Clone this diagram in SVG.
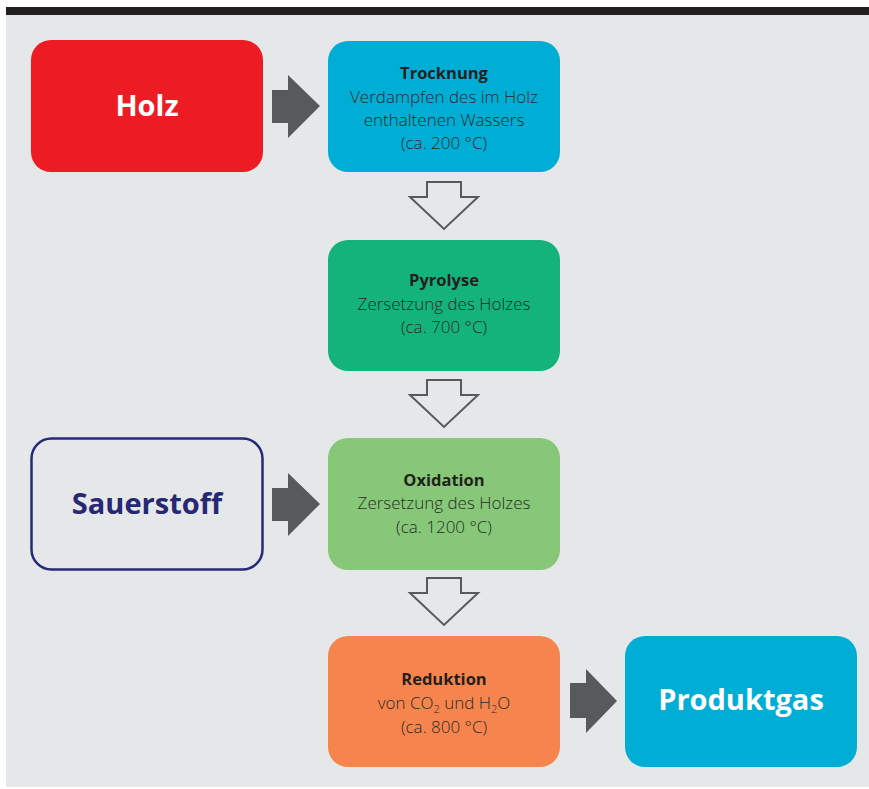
<svg xmlns="http://www.w3.org/2000/svg" width="869" height="789" viewBox="0 0 869 789">
<defs>
<style>
.box{stroke:none}
.h{font-family:"Open Sans","Liberation Sans",sans-serif;font-weight:700;font-size:16.5px;fill:#231f20;text-anchor:middle}
.b{font-family:"Open Sans","Liberation Sans",sans-serif;font-weight:300;font-size:17px;fill:#2a2a2a;text-anchor:middle}
.big{font-family:"Open Sans","Liberation Sans",sans-serif;font-weight:700;font-size:29px;text-anchor:middle}
.ra{fill:#58595b}
.da{fill:none;stroke:#58595b;stroke-width:2}
</style>
</defs>
<rect x="0" y="0" width="869" height="789" fill="#ffffff"/>
<rect x="6" y="15" width="863" height="772" fill="#e6e7e8"/>
<rect x="6" y="7" width="863" height="8" fill="#231f20"/>

<g id="connectors">
<path class="ra" d="M272,90 H288 V75 L320,106 L288,138 V123 H272 Z"/>
<path class="ra" d="M272,488 H288 V473 L320,504 L288,536 V521 H272 Z"/>
<path class="ra" d="M570,683 H586 V669 L617,701 L586,733 V718 H570 Z"/>
<path class="da" d="M427,182 H461 V197 H478 L444,229 L410,197 H427 Z"/>
<path class="da" d="M427,380 H461 V395 H478 L444,427 L410,395 H427 Z"/>
<path class="da" d="M427,578 H461 V593 H478 L444,625 L410,593 H427 Z"/>
</g>

<g id="holz">
<rect class="box" x="31" y="40" width="232" height="132" rx="20" fill="#ed1c24"/>
<text class="big" x="147" y="116" fill="#ffffff">Holz</text>
</g>

<g id="trocknung">
<rect class="box" x="328" y="41" width="232" height="131" rx="20" fill="#00aed5"/>
<text class="h" x="444" y="79">Trocknung</text>
<text class="b" x="444" y="103">Verdampfen des im Holz</text>
<text class="b" x="444" y="126">enthaltenen Wassers</text>
<text class="b" x="444" y="149">(ca. 200 °C)</text>
</g>

<g id="pyrolyse">
<rect class="box" x="328" y="240" width="232" height="131" rx="20" fill="#13b37b"/>
<text class="h" x="444" y="286">Pyrolyse</text>
<text class="b" x="444" y="310">Zersetzung des Holzes</text>
<text class="b" x="444" y="333">(ca. 700 °C)</text>
</g>

<g id="sauerstoff">
<rect x="31.5" y="438.5" width="231" height="131" rx="20" fill="#e6e7e8" stroke="#262a78" stroke-width="2.5"/>
<text class="big" x="147" y="514" fill="#262874">Sauerstoff</text>
</g>

<g id="oxidation">
<rect class="box" x="328" y="438" width="232" height="132" rx="20" fill="#86c877"/>
<text class="h" x="444" y="486">Oxidation</text>
<text class="b" x="444" y="509">Zersetzung des Holzes</text>
<text class="b" x="444" y="533">(ca. 1200 °C)</text>
</g>

<g id="reduktion">
<rect class="box" x="328" y="636" width="232" height="131" rx="20" fill="#f6854d"/>
<text class="h" x="444" y="685">Reduktion</text>
<text class="b" x="444" y="709">von CO<tspan font-size="11" dy="4">2</tspan><tspan dy="-4"> und H</tspan><tspan font-size="11" dy="4">2</tspan><tspan dy="-4">O</tspan></text>
<text class="b" x="444" y="733">(ca. 800 °C)</text>
</g>

<g id="produktgas">
<rect class="box" x="625" y="636" width="232" height="131" rx="20" fill="#00aed5"/>
<text class="big" x="741" y="710" fill="#ffffff">Produktgas</text>
</g>
</svg>
